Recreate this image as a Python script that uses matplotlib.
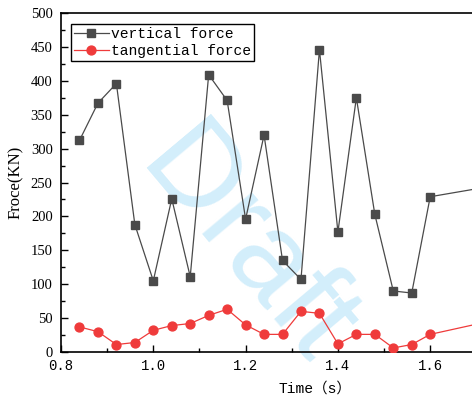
import matplotlib

matplotlib.use("Agg")
import matplotlib.pyplot as plt
from matplotlib.ticker import MultipleLocator

# --- data -------------------------------------------------------------------
time_s = [0.84, 0.88, 0.92, 0.96, 1.00, 1.04, 1.08, 1.12, 1.16, 1.20, 1.24,
          1.28, 1.32, 1.36, 1.40, 1.44, 1.48, 1.52, 1.56, 1.60, 1.84]
vertical_force = [312, 367, 396, 188, 105, 226, 111, 409, 371, 196, 320,
                  135, 107, 446, 177, 375, 203, 90, 87, 229, 257]
tangential_force = [37, 30, 11, 14, 32, 39, 42, 54, 63, 40, 26,
                    26, 60, 57, 12, 26, 26, 6, 11, 26, 62]
x_ticks = [0.8, 1.0, 1.2, 1.4, 1.6]
y_ticks = [0, 50, 100, 150, 200, 250, 300, 350, 400, 450, 500]

GRAY = "#4a4a4a"
RED = "#ef3b3b"
WATERMARK = "#d3eefb"
MONO = ["Liberation Mono", "Noto Sans CJK SC"]
SERIF = ["Liberation Serif", "Noto Sans CJK SC"]

W, H = 472, 398
fig = plt.figure(figsize=(W / 100, H / 100), dpi=100)
# axes run past the right edge of the canvas, as in the reference crop
left, right, bottom, top = 61, 61 + 1.1 * 461.5, 352, 13
ax = fig.add_axes([left / W, 1 - bottom / H, (right - left) / W, (bottom - top) / H])

ax.plot(time_s, vertical_force, color=GRAY, lw=0.9, marker="s", ms=5.6,
        mfc=GRAY, mec=GRAY, label="vertical force", zorder=3)
ax.plot(time_s, tangential_force, color=RED, lw=0.9, marker="o", ms=6.4,
        mfc=RED, mec=RED, label="tangential force", zorder=3)

ax.set_xlim(0.8, 1.9)
ax.set_ylim(0, 500)
ax.set_xticks(x_ticks)
ax.set_yticks(y_ticks)
ax.xaxis.set_minor_locator(MultipleLocator(0.1))
ax.yaxis.set_minor_locator(MultipleLocator(25))
ax.tick_params(which="both", direction="in", top=False, right=False, width=1.0)
ax.tick_params(which="major", length=5)
ax.tick_params(which="minor", length=2.6)
ax.tick_params(axis="x", pad=5)
ax.tick_params(axis="y", pad=6)
for s in ax.spines.values():
    s.set_linewidth(1.2)

for t in ax.get_xticklabels():
    t.set_family(MONO)
    t.set_fontsize(10)
for t in ax.get_yticklabels():
    t.set_family(SERIF)
    t.set_fontsize(10.5)

ax.set_xlabel("Time（s）", family=MONO, fontsize=10.5, labelpad=6)
ax.set_ylabel("Froce(KN)", family=SERIF, fontsize=12, labelpad=5)

leg = ax.legend(loc="upper left", bbox_to_anchor=(71 / W, 1 - 24 / H),
                bbox_transform=fig.transFigure, prop={"family": MONO, "size": 10.5},
                fancybox=False, edgecolor="black", framealpha=1, borderaxespad=0,
                borderpad=0.2, handlelength=2.4, handletextpad=0.15, labelspacing=0.2)
leg.get_frame().set_linewidth(1.0)

# the "Draft" watermark sits behind the data
ax.text(245 / W, 1 - 248 / H, "Draft", transform=fig.transFigure, rotation=-50,
        rotation_mode="anchor", ha="center", va="center", fontsize=88,
        family="Liberation Sans", color=WATERMARK, zorder=0.5, clip_on=False)

fig.savefig("out.png", dpi=100)
